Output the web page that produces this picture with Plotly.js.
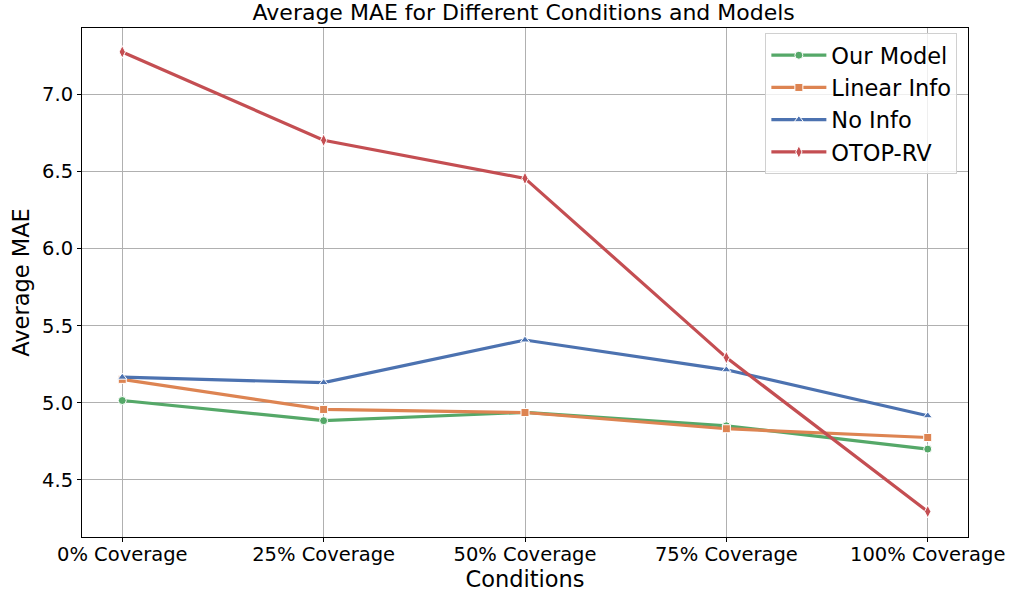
<!DOCTYPE html>
<html>
<head>
<meta charset="utf-8">
<script src="https://cdn.plot.ly/plotly-3.0.1.min.js"></script>
<style>html,body{margin:0;padding:0;background:#fff;}#chart{width:1011px;height:592px;}</style>
</head>
<body>
<div id="chart"></div>
<script>
const conditions = ["0% Coverage", "25% Coverage", "50% Coverage", "75% Coverage", "100% Coverage"];
const ourModel = [5.015, 4.884, 4.938, 4.851, 4.700];
const linearInfo = [5.152, 4.957, 4.937, 4.832, 4.775];
const noInfo = [5.166, 5.131, 5.407, 5.214, 4.916];
const otopRV = [7.275, 6.702, 6.455, 5.293, 4.295];

const seriesNames = ["Our Model", "Linear Info", "No Info", "OTOP-RV"];
const seriesData = [ourModel, linearInfo, noInfo, otopRV];
const colors = ["#55a868", "#dd8452", "#4c72b0", "#c44e52"];
const symbols = ["circle", "square", "triangle-up", "diamond-tall"];

const traces = seriesNames.map((name, i) => ({
  type: "scatter",
  mode: "lines+markers",
  name: name,
  x: conditions,
  y: seriesData[i],
  line: {color: colors[i], width: 3.2},
  marker: {symbol: symbols[i], size: i === 3 ? 9 : 8, color: colors[i], line: {color: "#fff", width: 1}}
}));

const font = "DejaVu Sans, sans-serif";
const layout = {
  width: 1011, height: 592,
  margin: {l: 82, r: 43, t: 28, b: 55},
  paper_bgcolor: "#fff", plot_bgcolor: "#fff",
  font: {family: font, color: "#000"},
  title: {text: "Average MAE for Different Conditions and Models", font: {family: font, size: 22, color: "#000"}, x: 0.518, xanchor: "center", y: 0.992, yanchor: "top", yref: "container"},
  showlegend: true,
  legend: {x: 0.988, xanchor: "right", y: 0.99, yanchor: "top", bgcolor: "rgba(255,255,255,0.8)", bordercolor: "#d0d0d0", borderwidth: 1, font: {family: font, size: 22.5, color: "#000"}, tracegroupgap: 0, itemwidth: 55},
  xaxis: {
    type: "category", range: [-0.2, 4.2],
    showgrid: true, gridcolor: "#b0b0b0", gridwidth: 1,
    showline: true, linecolor: "#000", linewidth: 1, mirror: true,
    ticks: "outside", ticklen: 4, tickcolor: "#000",
    ticklabelstandoff: -4,
    tickfont: {family: font, size: 19.5, color: "#000"},
    title: {text: "Conditions", font: {family: font, size: 22.5, color: "#000"}, standoff: 2},
    zeroline: false, automargin: false
  },
  yaxis: {
    range: [4.13, 7.43],
    tickvals: [4.5, 5.0, 5.5, 6.0, 6.5, 7.0],
    ticktext: ["4.5", "5.0", "5.5", "6.0", "6.5", "7.0"],
    showgrid: true, gridcolor: "#b0b0b0", gridwidth: 1,
    showline: true, linecolor: "#000", linewidth: 1, mirror: true,
    ticks: "outside", ticklen: 4, tickcolor: "#000",
    tickfont: {family: font, size: 19.5, color: "#000"},
    title: {text: "Average MAE", font: {family: font, size: 22.5, color: "#000"}, standoff: 6},
    zeroline: false, automargin: false
  }
};

Plotly.newPlot("chart", traces, layout, {displayModeBar: false, staticPlot: true});
</script>
</body>
</html>
